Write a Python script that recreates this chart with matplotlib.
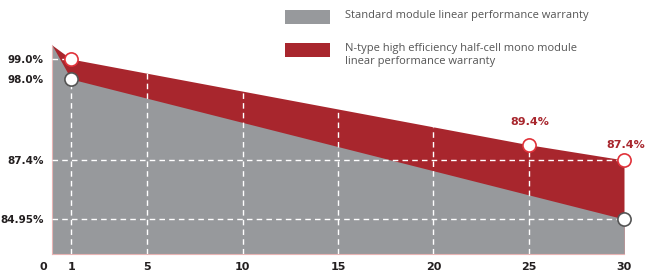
import numpy as np
import matplotlib.pyplot as plt
from matplotlib.patches import Rectangle
import matplotlib.transforms as mtransforms

years_std = [0, 1, 30]
std_vals = [100.0, 98.0, 84.95]
years_n = [0, 1, 25, 30]
n_vals = [100.0, 99.0, 89.4, 87.4]
ytick_vals = [84.95, 87.4, 98.0, 99.0]
ytick_labels = ["84.95%", "87.4%", "98.0%", "99.0%"]
xtick_vals = [0, 1, 5, 10, 15, 20, 25, 30]
grid_x = [1, 5, 10, 15, 20, 25]
grid_y = [84.95, 87.4]
legend_labels = ["Standard module linear performance warranty",
                 "N-type high efficiency half-cell mono module\nlinear performance warranty"]

GRAY = "#97999c"
RED = "#a8262d"
TXT = "#231f20"

# piecewise y scale (the original axis is not linear)
knots_v = np.array([83.5, 84.95, 87.4, 98.0, 99.0, 100.0])
knots_p = np.array([0.0, 35.0, 94.0, 175.0, 195.0, 209.0])


def fwd(v):
    return np.interp(v, knots_v, knots_p, left=-1, right=210)


def inv(p):
    return np.interp(p, knots_p, knots_v)


def straight(xq, xk, vk):
    # straight segments on screen, i.e. linear in the scaled space
    return inv(np.interp(xq, xk, fwd(np.array(vk))))


fig = plt.figure(figsize=(6.52, 2.75), dpi=100)
ax = fig.add_axes([52 / 652, 21 / 275, 572 / 652, 209 / 275])
ax.set_yscale("function", functions=(fwd, inv))
ax.set_xlim(0, 30)
ax.set_ylim(83.5, 100)

xs = np.linspace(0, 30, 601)
top_n = straight(xs, years_n, n_vals)
top_s = straight(xs, years_std, std_vals)
ax.fill_between(xs, 83.5, top_n, color=RED, lw=0, zorder=1)
ax.fill_between(xs, 83.5, top_s, color=GRAY, lw=0, zorder=2)

# white dashed guides
dash = dict(color="white", lw=1, ls=(0, (4, 3)), zorder=3)
for gx in grid_x:
    if gx == 1:
        ytop = 98.0
    else:
        ytop = straight(gx, years_n, n_vals)
    ax.plot([gx, gx], [83.5, ytop], **dash)
for gy in grid_y:
    ax.plot([0, 30], [gy, gy], **dash)
ax.plot([0, 1], [99.0, 99.0], **dash)

# markers
ax.plot([1, 25, 30], [99.0, 89.4, 87.4], "o", ms=9.5, mfc="white", mec="#e0323a",
        mew=1.2, zorder=5, clip_on=False)
ax.plot([1, 30], [98.0, 84.95], "o", ms=9.5, mfc="white", mec="#555555",
        mew=1.2, zorder=5, clip_on=False)

for x, v, off in [(25, 89.4, 13), (30, 87.4, 7.5)]:
    ax.annotate(f"{v}%", (x, v), xytext=(1, off), textcoords="offset points",
                ha="center", va="bottom", color=RED, fontsize=8,
                fontweight="bold")

for s in ["top", "right"]:
    ax.spines[s].set_visible(False)
for s in ["left", "bottom"]:
    ax.spines[s].set_color("#e8b4b4")
    ax.spines[s].set_linewidth(0.8)

ax.set_yticks(ytick_vals)
ax.set_yticklabels(ytick_labels)
ax.set_xticks(xtick_vals)
ax.set_xticklabels([str(x) for x in xtick_vals])
ax.tick_params(axis="y", length=0, labelsize=7.5, colors=TXT, pad=6)
ax.tick_params(axis="x", length=0, labelsize=8, colors=TXT, pad=6)
for lab in ax.get_xticklabels() + ax.get_yticklabels():
    lab.set_fontweight("bold")
shift = mtransforms.ScaledTranslation(-9 / 100, 0, fig.dpi_scale_trans)
ax.get_xticklabels()[0].set_transform(ax.get_xticklabels()[0].get_transform() + shift)

# legend drawn by hand so the swatch lines up with the first text line
for i, (col, lab) in enumerate(zip([GRAY, RED], legend_labels)):
    ytop = 10 + i * 33
    fig.patches.append(Rectangle((285 / 652, 1 - (ytop + 14) / 275), 45 / 652, 14 / 275,
                                 transform=fig.transFigure, color=col, lw=0))
    fig.text(345 / 652, 1 - ytop / 275, lab, ha="left", va="top",
             color="#555555", family="Open Sans", fontsize=8,
             linespacing=1.2, transform=fig.transFigure)

fig.savefig("out.png", dpi=100)
